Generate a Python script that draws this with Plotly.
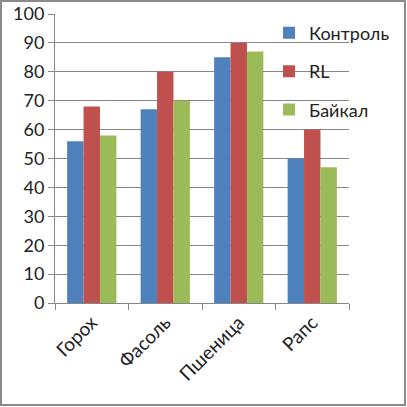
import plotly.graph_objects as go

categories = ["Горох", "Фасоль", "Пшеница", "Рапс"]
series_names = ["Контроль", "RL", "Байкал"]
kontrol = [56, 67, 85, 50]
rl = [68, 80, 90, 60]
baikal = [58, 70, 87, 47]
colors = ["#4F81BD", "#C0504D", "#9BBB59"]

W, H = 407, 407
ml, mr, mt, mb = 55, 58, 14, 104

fig = go.Figure()
for i, (name, vals) in enumerate(zip(series_names, [kontrol, rl, baikal])):
    fig.add_trace(go.Bar(x=categories, y=vals, name=name, marker_color=colors[i],
                         marker_line_width=0, legendgroup=f"g{i}"))

font = dict(family="Lato, 'Open Sans', sans-serif", size=18, color="#222")
xfont = dict(family="Lato, 'Open Sans', sans-serif", size=19, color="#222")
fig.update_layout(
    width=W, height=H, margin=dict(l=ml, r=mr, t=mt, b=mb, autoexpand=False),
    paper_bgcolor="white", plot_bgcolor="white", font=font,
    barmode="group", bargap=0.33, bargroupgap=0,
    showlegend=True,
    legend=dict(x=0.728, y=0.998, xanchor="left", yanchor="top", bgcolor="rgba(0,0,0,0)",
                font=dict(size=18, color="#222"), tracegroupgap=12, itemwidth=30),
)
fig.update_yaxes(range=[0, 100], dtick=10, showgrid=True, gridcolor="#868686", gridwidth=1,
                 showline=True, linecolor="#868686", linewidth=1, ticks="outside", ticklen=6,
                 tickcolor="#868686", zeroline=False, tickfont=font)
fig.update_xaxes(showline=True, linecolor="#868686", linewidth=1, ticks="outside", ticklen=6,
                 tickcolor="#868686", tickson="boundaries", tickangle=-45, tickfont=xfont)

pw = W - ml - mr
ph = H - mt - mb
def px_x(p):
    return (p - ml) / pw
def px_y(p):
    return 1 - (p - mt) / ph
fig.add_shape(type="rect", xref="paper", yref="paper",
              x0=px_x(1), x1=px_x(W - 2), y0=px_y(H - 2), y1=px_y(1),
              line=dict(color="#8a8a8a", width=2), fillcolor="rgba(0,0,0,0)")

fig.write_html("out.html", config={"displayModeBar": False},
               post_script="document.body.style.margin='0';document.body.style.overflow='hidden';")
